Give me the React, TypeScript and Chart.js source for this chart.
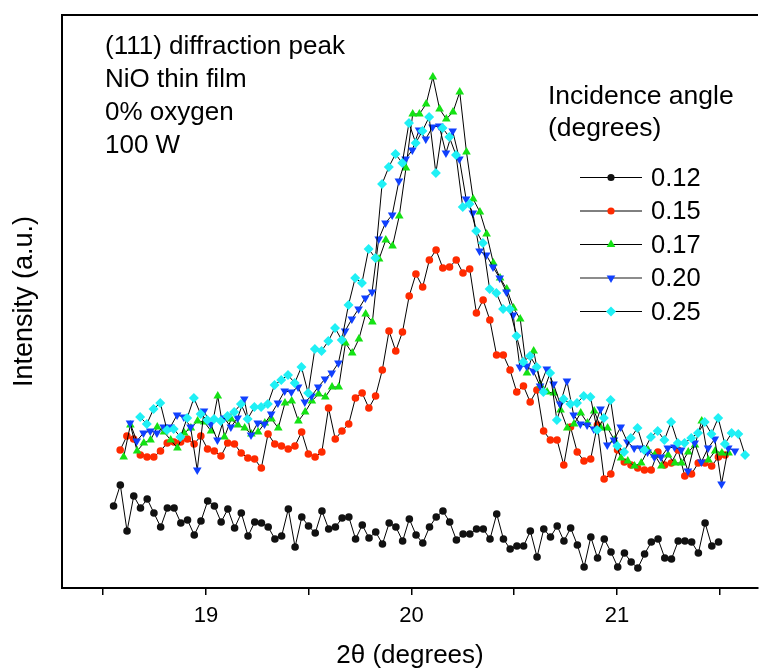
import React, { useEffect, useRef } from 'react';
import { Chart, registerables } from 'chart.js';

Chart.register(...registerables);

// ---------- data (2θ grid start + intensity, a.u.) ----------
const STEP_DEG = 0.0327;
const X_MIN = 18.3;
const X_MAX = 21.686;
const X_TICK_STEP = 0.5;

const SERIES_LABELS = ['0.12', '0.15', '0.17', '0.20', '0.25'];
const START_DEG = [18.551, 18.583, 18.6, 18.631, 18.68];

const I_012 = [
  82, 103, 57, 92, 80, 89, 75, 61, 80, 80, 65, 68, 53, 67, 87, 82, 66, 79, 60, 75,
  52, 66, 65, 61, 49, 52, 79, 41, 71, 62, 55, 77, 59, 61, 70, 71, 49, 63, 50, 56,
  44, 65, 61, 47, 69, 53, 45, 61, 71, 77, 66, 48, 54, 54, 59, 59, 49, 74, 49, 39,
  42, 42, 57, 31, 59, 51, 62, 47, 60, 43, 21, 51, 30, 49, 36, 21, 35, 26, 20, 34,
  46, 49, 30, 29, 47, 47, 46, 35, 65, 42, 46,
];
const I_015 = [
  138, 152, 149, 133, 131, 131, 137, 145, 146, 146, 149, 144, 152, 139, 137, 132, 145, 144, 135, 130,
  129, 120, 154, 144, 142, 139, 142, 156, 134, 131, 136, 180, 149, 157, 164, 190, 195, 180, 192, 218,
  257, 237, 256, 292, 314, 301, 328, 338, 320, 321, 328, 315, 319, 275, 288, 268, 233, 233, 218, 196,
  202, 186, 198, 157, 148, 148, 123, 161, 136, 127, 129, 163, 109, 114, 138, 126, 123, 120, 118, 118,
  136, 123, 125, 138, 112, 114, 125, 125, 122, 131, 133,
];
const I_017 = [
  131, 163, 137, 145, 148, 161, 156, 148, 140, 155, 160, 167, 166, 157, 192, 151, 169, 163, 160, 154,
  156, 165, 169, 160, 185, 187, 167, 176, 187, 194, 191, 201, 201, 245, 235, 249, 274, 266, 329, 348,
  342, 372, 420, 474, 474, 484, 511, 479, 469, 476, 496, 436, 389, 376, 354, 325, 310, 299, 280, 269,
  215, 237, 203, 196, 195, 178, 160, 164, 175, 165, 177, 160, 160, 148, 130, 127, 122, 125, 138, 133,
  122, 133, 125, 125, 136, 143, 167, 128, 137, 135, 135,
];
const I_020 = [
  165, 147, 155, 157, 155, 161, 161, 173, 171, 161, 118, 177, 164, 148, 170, 161, 170, 189, 153, 165,
  164, 174, 185, 197, 196, 201, 186, 192, 201, 209, 215, 225, 257, 269, 279, 290, 296, 349, 365, 373,
  407, 429, 438, 458, 449, 461, 462, 435, 457, 429, 389, 375, 337, 333, 321, 310, 296, 273, 221, 222,
  217, 202, 219, 204, 184, 207, 173, 164, 163, 159, 179, 143, 148, 161, 146, 140, 140, 136, 131, 131,
  140, 141, 138, 117, 145, 126, 140, 149, 104, 140, 137,
];
const I_025 = [
  171, 164, 179, 185, 158, 159, 151, 170, 190, 174, 168, 169, 167, 172, 176, 184, 169, 181, 181, 184,
  203, 208, 213, 205, 221, 195, 239, 237, 247, 260, 248, 283, 310, 305, 339, 330, 404, 421, 434, 425,
  465, 445, 457, 471, 415, 460, 451, 433, 381, 384, 357, 345, 299, 295, 279, 279, 252, 226, 232, 221,
  196, 215, 168, 189, 184, 185, 192, 191, 158, 170, 188, 142, 136, 150, 160, 138, 151, 157, 148, 166,
  145, 145, 150, 155, 166, 154, 170, 144, 155, 154, 133,
];

const ANNOTATION = ['(111) diffraction peak', 'NiO thin film', '0% oxygen', '100 W'];
const LEGEND_TITLE = ['Incidence angle', '(degrees)'];

const SERIES_VALUES = [I_012, I_015, I_017, I_020, I_025];
const SERIES_COLORS = ['#111111', '#ff2a00', '#14e214', '#1040ff', '#1ff0f5'];
const SERIES_MARKERS = ['circle', 'circle', 'triangle', 'triangleDown', 'diamond'];

const FONT = '"Liberation Sans", Arial, Helvetica, sans-serif';

function drawMarker(ctx: CanvasRenderingContext2D, kind: string, x: number, y: number, r: number, color: string) {
  ctx.fillStyle = color;
  ctx.beginPath();
  if (kind === 'circle') {
    ctx.arc(x, y, r, 0, Math.PI * 2);
  } else if (kind === 'triangle') {
    ctx.moveTo(x, y - r);
    ctx.lineTo(x + r * 0.866, y + r * 0.5);
    ctx.lineTo(x - r * 0.866, y + r * 0.5);
  } else if (kind === 'triangleDown') {
    ctx.moveTo(x, y + r);
    ctx.lineTo(x + r * 0.866, y - r * 0.5);
    ctx.lineTo(x - r * 0.866, y - r * 0.5);
  } else {
    ctx.moveTo(x, y - r);
    ctx.lineTo(x + r, y);
    ctx.lineTo(x, y + r);
    ctx.lineTo(x - r, y);
  }
  ctx.closePath();
  ctx.fill();
}

const overlayPlugin = {
  id: 'overlay',
  afterDraw(chart: any) {
    const { ctx, chartArea } = chart;
    ctx.save();
    // top frame line
    ctx.strokeStyle = '#000';
    ctx.lineWidth = 2;
    ctx.beginPath();
    ctx.moveTo(chartArea.left - 1, chartArea.top);
    ctx.lineTo(chartArea.right, chartArea.top);
    ctx.stroke();

    ctx.fillStyle = '#000';
    ctx.textBaseline = 'middle';
    ctx.textAlign = 'left';
    ctx.font = `26px ${FONT}`;
    ANNOTATION.forEach((t, i) => {
      ctx.fillText(t, 105, 47 + i * 33);
    });
    ctx.font = `26.5px ${FONT}`;
    LEGEND_TITLE.forEach((t, i) => {
      ctx.fillText(t, 548, 97 + i * 32);
    });

    ctx.font = `25.5px ${FONT}`;
    SERIES_LABELS.forEach((lab, i) => {
      const y = 177.5 + i * 33.5;
      ctx.strokeStyle = i === 3 ? '#666' : '#000';
      ctx.lineWidth = i === 3 ? 1.5 : 1;
      ctx.beginPath();
      ctx.moveTo(580, y);
      ctx.lineTo(642, y);
      ctx.stroke();
      const m = SERIES_MARKERS[i];
      const r = m === 'circle' ? 3.6 : 5;
      drawMarker(ctx, m, 611, y, r, SERIES_COLORS[i]);
      ctx.fillStyle = '#000';
      ctx.fillText(lab, 651, y + 1);
    });
    ctx.restore();
  },
};

export default function App() {
  const canvasRef = useRef<HTMLCanvasElement | null>(null);

  useEffect(() => {
    const canvas = canvasRef.current;
    if (!canvas) return;

    const datasets = SERIES_VALUES.map((vals, s) => {
      const marker = SERIES_MARKERS[s];
      const pointStyle = marker === 'diamond' ? 'rectRot' : marker === 'circle' ? 'circle' : 'triangle';
      return {
        label: SERIES_LABELS[s],
        data: vals.map((v, i) => ({ x: +(START_DEG[s] + i * STEP_DEG).toFixed(4), y: v })),
        borderColor: '#000',
        borderWidth: 1,
        pointStyle,
        pointRotation: marker === 'triangleDown' ? 180 : 0,
        pointRadius: marker === 'circle' ? 3.8 : 5,
        pointBackgroundColor: SERIES_COLORS[s],
        pointBorderColor: SERIES_COLORS[s],
        pointBorderWidth: 0,
        tension: 0,
        fill: false,
        order: 5 - s,
      };
    });

    const chart = new Chart(canvas, {
      type: 'line',
      data: { datasets },
      plugins: [overlayPlugin],
      options: {
        animation: false,
        responsive: false,
        maintainAspectRatio: false,
        layout: { padding: { top: 15, right: 0, left: 0, bottom: 0 } },
        plugins: {
          legend: { display: false },
          tooltip: { enabled: false },
        },
        scales: {
          x: {
            type: 'linear',
            min: X_MIN,
            max: X_MAX,
            afterFit: (scale: any) => {
              scale.height = 83;
            },
            ticks: {
              stepSize: X_TICK_STEP,
              includeBounds: false,
              autoSkip: false,
              maxRotation: 0,
              padding: 8,
              color: '#000',
              font: { family: FONT, size: 22 },
              callback: (v: any) => (Number.isInteger(Number(v)) ? String(v) : ''),
            },
            grid: {
              display: true,
              drawOnChartArea: false,
              drawTicks: true,
              tickLength: 7,
              color: '#000',
              lineWidth: 1.5,
            },
            border: { display: true, color: '#000', width: 2 },
            title: {
              display: true,
              text: '2θ (degrees)',
              color: '#000',
              font: { family: FONT, size: 26 },
              padding: { top: 0, bottom: 0 },
            },
          },
          y: {
            type: 'linear',
            min: 0,
            max: 573,
            afterFit: (scale: any) => {
              scale.width = 62;
            },
            ticks: { display: false },
            grid: { display: false },
            border: { display: true, color: '#000', width: 2 },
            title: {
              display: true,
              text: 'Intensity (a.u.)',
              color: '#000',
              font: { family: FONT, size: 27 },
              padding: { top: 8, bottom: 0 },
            },
          },
        },
      },
    });

    return () => chart.destroy();
  }, []);

  return (
    <div style={{ position: 'absolute', left: 0, top: 0, width: 763, height: 671, background: '#fff' }}>
      <canvas ref={canvasRef} width={763} height={671} style={{ display: 'block' }} />
    </div>
  );
}
